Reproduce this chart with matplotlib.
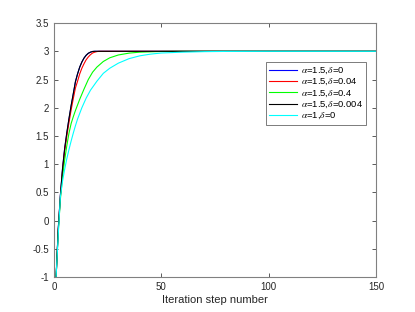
import numpy as np
import matplotlib
matplotlib.use('Agg')
import matplotlib.pyplot as plt

plt.rcParams['font.family'] = ['Liberation Sans', 'DejaVu Sans']
plt.rcParams['mathtext.fontset'] = 'stix'

# iteration steps and values
t_fast = [1, 2, 3, 4, 5, 6, 7, 8, 9, 10, 11, 12, 13, 14, 15, 16, 17, 18, 19, 20, 150]
y_blue = [-1, -0.15, 0.45, 0.92, 1.28, 1.55, 1.8, 2.03, 2.24, 2.46, 2.6, 2.72, 2.81,
          2.88, 2.93, 2.965, 2.985, 2.997, 3.0, 3.0, 3.0]
y_black = [-1, -0.15, 0.45, 0.92, 1.28, 1.56, 1.81, 2.04, 2.25, 2.46, 2.6, 2.72, 2.81,
           2.88, 2.93, 2.965, 2.985, 2.997, 3.0, 3.0, 3.0]

t_red = [1, 2, 3, 4, 5, 6, 7, 8, 9, 10, 11, 12, 13, 14, 15, 16, 17, 18, 19, 20, 21, 150]
y_red = [-1, -0.17, 0.42, 0.88, 1.24, 1.5, 1.74, 1.96, 2.16, 2.35, 2.47, 2.6, 2.7,
         2.78, 2.85, 2.9, 2.94, 2.97, 2.985, 2.995, 3.0, 3.0]

t_green = [1, 2, 3, 4, 5, 6, 7, 8, 9, 10, 11, 12, 14, 16, 18, 20, 23, 26, 30, 35, 40,
           50, 60, 150]
y_green = [-1, -0.2, 0.38, 0.78, 1.08, 1.33, 1.55, 1.72, 1.84, 1.95, 2.05, 2.15, 2.33,
           2.5, 2.63, 2.72, 2.82, 2.885, 2.935, 2.968, 2.985, 2.997, 3.0, 3.0]

t_cyan = [1, 2, 3, 4, 5, 6, 7, 8, 9, 10, 11, 12, 13, 15, 17, 20, 23, 26, 30, 35, 40,
          45, 50, 60, 70, 80, 100, 150]
y_cyan = [-1, -0.25, 0.42, 0.7, 0.91, 1.1, 1.26, 1.41, 1.55, 1.68, 1.8, 1.9, 2.0, 2.17,
          2.31, 2.47, 2.61, 2.7, 2.79, 2.87, 2.92, 2.95, 2.97, 2.985, 2.994, 2.998, 3.0, 3.0]

labels = [r'$\alpha$=1.5,$\delta$=0', r'$\alpha$=1.5,$\delta$=0.04',
          r'$\alpha$=1.5,$\delta$=0.4', r'$\alpha$=1.5,$\delta$=0.004',
          r'$\alpha$=1,$\delta$=0']

fig = plt.figure(figsize=(4.15, 3.12), dpi=100)
ax = fig.add_axes([0.130, 0.112, 0.776, 0.814])

lw = 0.8
ax.plot(t_fast, y_blue, color='#0000ff', lw=lw, label=labels[0])
ax.plot(t_red, y_red, color='#ff0000', lw=lw, label=labels[1])
ax.plot(t_green, y_green, color='#00ff00', lw=lw, label=labels[2])
ax.plot(t_fast, y_black, color='#000000', lw=lw, label=labels[3])
ax.plot(t_cyan, y_cyan, color='#00ffff', lw=lw, label=labels[4])

ax.set_xlim(0, 150)
ax.set_ylim(-1, 3.5)
ax.set_xticks([0, 50, 100, 150])
ax.set_yticks([-1, -0.5, 0, 0.5, 1, 1.5, 2, 2.5, 3, 3.5])
ax.set_yticklabels(['-1', '-0.5', '0', '0.5', '1', '1.5', '2', '2.5', '3', '3.5'])
ax.tick_params(direction='in', top=True, right=True, labelsize=7, length=3,
               width=0.6, color='#404040', labelcolor='#262626')
for s in ax.spines.values():
    s.set_color('#808080')
    s.set_linewidth(0.8)
ax.set_xlabel('Iteration step number', fontsize=8, color='#262626', labelpad=2)

leg = ax.legend(loc='upper right', bbox_to_anchor=(0.97, 0.845), fontsize=6.8,
                frameon=True, fancybox=False, handlelength=3.0, borderpad=0.35,
                labelspacing=0.1, handletextpad=0.4, borderaxespad=0)
leg.get_frame().set_edgecolor('#404040')
leg.get_frame().set_linewidth(0.6)

fig.savefig('out.png', dpi=100)
